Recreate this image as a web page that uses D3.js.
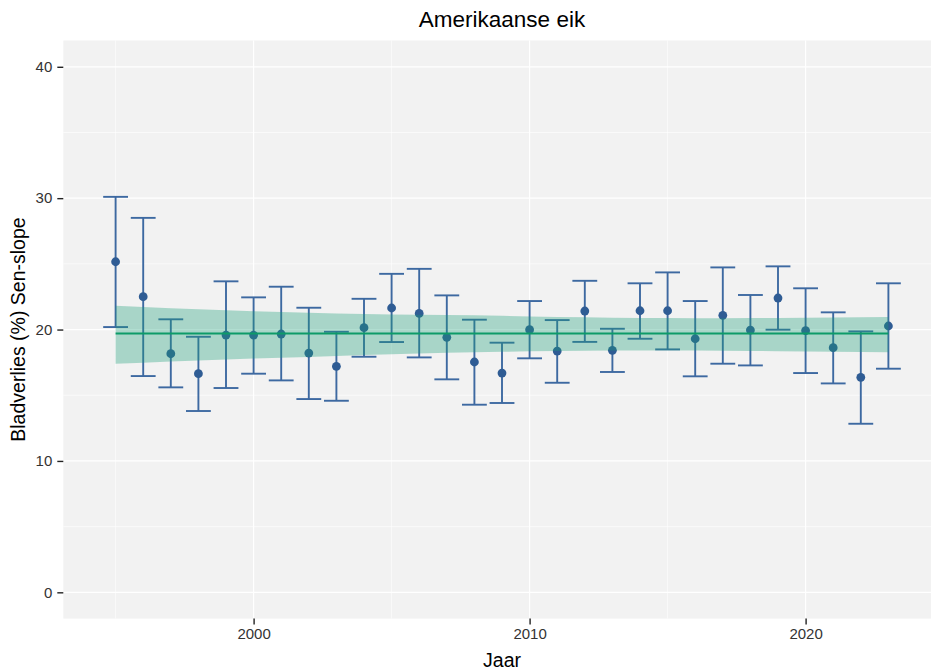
<!DOCTYPE html>
<html>
<head>
<meta charset="utf-8">
<script src="https://cdn.jsdelivr.net/npm/d3@7/dist/d3.min.js"></script>
<style>
  html, body { margin: 0; padding: 0; background: #ffffff; }
  svg { display: block; }
  text { font-family: "Liberation Sans", Arial, sans-serif; }
</style>
</head>
<body>
<div id="chart"></div>
<script>
// Jaarlijks bladverlies met betrouwbaarheidsinterval
const years = [1995, 1996, 1997, 1998, 1999, 2000, 2001, 2002, 2003, 2004,
               2005, 2006, 2007, 2008, 2009, 2010, 2011, 2012, 2013, 2014,
               2015, 2016, 2017, 2018, 2019, 2020, 2021, 2022, 2023];
const meanLoss = [25.16, 22.50, 18.16, 16.64, 19.58, 19.58, 19.66, 18.21, 17.20, 20.14,
                  21.64, 21.23, 19.41, 17.53, 16.69, 19.99, 18.36, 21.41, 18.42, 21.43,
                  21.43, 19.30, 21.08, 19.96, 22.40, 19.91, 18.62, 16.36, 20.27];
const lowerLoss = [20.19, 16.46, 15.60, 13.80, 15.55, 16.64, 16.13, 14.71, 14.58, 17.93,
                   19.05, 17.88, 16.21, 14.28, 14.41, 17.81, 15.95, 19.06, 16.77, 19.30,
                   18.49, 16.44, 17.40, 17.27, 19.99, 16.69, 15.90, 12.83, 17.02];
const upperLoss = [30.10, 28.50, 20.78, 19.45, 23.67, 22.45, 23.26, 21.66, 19.83, 22.34,
                   24.24, 24.62, 22.60, 20.75, 19.00, 22.17, 20.72, 23.71, 20.06, 23.52,
                   24.35, 22.17, 24.73, 22.63, 24.81, 23.14, 21.31, 19.86, 23.52];

// Sen-slope trend en bijbehorende band
const senSlope = [19.70, 19.70, 19.70, 19.70, 19.70, 19.70, 19.70, 19.70, 19.70, 19.70,
                  19.70, 19.70, 19.70, 19.70, 19.70, 19.70, 19.70, 19.70, 19.70, 19.70,
                  19.70, 19.70, 19.70, 19.70, 19.70, 19.70, 19.70, 19.70, 19.70];
const bandUpper = [21.81, 21.72, 21.63, 21.55, 21.47, 21.40, 21.33, 21.27, 21.22, 21.18,
                   21.15, 21.12, 21.10, 21.08, 21.05, 21.00, 20.96, 20.93, 20.90, 20.88,
                   20.87, 20.86, 20.86, 20.87, 20.88, 20.90, 20.92, 20.94, 20.96];
const bandLower = [17.40, 17.48, 17.56, 17.64, 17.72, 17.79, 17.85, 17.92, 17.99, 18.06,
                   18.12, 18.18, 18.23, 18.28, 18.31, 18.34, 18.36, 18.38, 18.40, 18.41,
                   18.41, 18.40, 18.39, 18.37, 18.35, 18.33, 18.31, 18.29, 18.27];

const xTicks = [2000, 2010, 2020];
const xMinor = [1995, 2005, 2015, 2025];
const yTicks = [0, 10, 20, 30, 40];
const yMinor = [5, 15, 25, 35];

const titleText = "Amerikaanse eik";
const xTitle = "Jaar";
const yTitle = "Bladverlies (%) Sen-slope";

const rows = years.map((y, i) => ({
  year: y, mean: meanLoss[i], lo: lowerLoss[i], hi: upperLoss[i],
  trend: senSlope[i], bLo: bandLower[i], bHi: bandUpper[i]
}));

const W = 931, H = 671;
const panel = { left: 63.3, right: 940.7, top: 40.5, bottom: 618.6 };
const capWidth = 0.9;

const svg = d3.select("#chart").append("svg").attr("width", W).attr("height", H);

// Domain with 5% padding around data incl. cap width
const xLo = d3.min(years) - capWidth / 2, xHi = d3.max(years) + capWidth / 2;
const xPad = (xHi - xLo) * 0.05;
const x = d3.scaleLinear().domain([xLo - xPad, xHi + xPad]).range([panel.left, panel.right]);
const y = d3.scaleLinear().domain([-2, 42]).range([panel.bottom, panel.top]);

// Panel background
svg.append("rect")
  .attr("x", panel.left).attr("y", panel.top)
  .attr("width", panel.right - panel.left).attr("height", panel.bottom - panel.top)
  .attr("fill", "#f2f2f2");

const grid = svg.append("g");
grid.selectAll(".ymin").data(yMinor).join("line")
  .attr("x1", panel.left).attr("x2", panel.right)
  .attr("y1", d => y(d)).attr("y2", d => y(d))
  .attr("stroke", "#ffffff").attr("stroke-width", 0.6);
grid.selectAll(".xmin").data(xMinor).join("line")
  .attr("y1", panel.top).attr("y2", panel.bottom)
  .attr("x1", d => x(d)).attr("x2", d => x(d))
  .attr("stroke", "#ffffff").attr("stroke-width", 0.6);
grid.selectAll(".ymaj").data(yTicks).join("line")
  .attr("x1", panel.left).attr("x2", panel.right)
  .attr("y1", d => y(d)).attr("y2", d => y(d))
  .attr("stroke", "#ffffff").attr("stroke-width", 1.2);
grid.selectAll(".xmaj").data(xTicks).join("line")
  .attr("y1", panel.top).attr("y2", panel.bottom)
  .attr("x1", d => x(d)).attr("x2", d => x(d))
  .attr("stroke", "#ffffff").attr("stroke-width", 1.2);

// Error bars
const barColor = "#3d69a1";
const bars = svg.append("g").attr("stroke", barColor).attr("stroke-width", 1.9).attr("fill", "none");
bars.selectAll(".v").data(rows).join("line")
  .attr("x1", d => x(d.year)).attr("x2", d => x(d.year))
  .attr("y1", d => y(d.lo)).attr("y2", d => y(d.hi));
bars.selectAll(".top").data(rows).join("line")
  .attr("x1", d => x(d.year - capWidth / 2)).attr("x2", d => x(d.year + capWidth / 2))
  .attr("y1", d => y(d.hi)).attr("y2", d => y(d.hi));
bars.selectAll(".bot").data(rows).join("line")
  .attr("x1", d => x(d.year - capWidth / 2)).attr("x2", d => x(d.year + capWidth / 2))
  .attr("y1", d => y(d.lo)).attr("y2", d => y(d.lo));

// Mean points
svg.append("g").selectAll("circle").data(rows).join("circle")
  .attr("cx", d => x(d.year)).attr("cy", d => y(d.mean))
  .attr("r", 4.4).attr("fill", "#2f5c94");

// Sen-slope band
const area = d3.area().x(d => x(d.year)).y0(d => y(d.bLo)).y1(d => y(d.bHi));
svg.append("path").datum(rows)
  .attr("d", area).attr("fill", "#1b9e77").attr("fill-opacity", 0.34);

// Sen-slope line
const line = d3.line().x(d => x(d.year)).y(d => y(d.trend));
svg.append("path").datum(rows)
  .attr("d", line).attr("fill", "none").attr("stroke", "#0d9b68").attr("stroke-width", 2.2);

// Axes
const yAxis = d3.axisLeft(y).tickValues(yTicks).tickSize(6).tickPadding(5);
const gy = svg.append("g").attr("transform", `translate(${panel.left},0)`).call(yAxis);
gy.select(".domain").remove();
gy.selectAll(".tick line").attr("stroke", "#222222").attr("stroke-width", 1.4);
gy.selectAll(".tick text").attr("fill", "#333333").attr("font-size", 15)
  .style("font-family", "'Liberation Sans', Arial, sans-serif");

const xAxis = d3.axisBottom(x).tickValues(xTicks).tickFormat(d3.format("d")).tickSize(6).tickPadding(4);
const gx = svg.append("g").attr("transform", `translate(0,${panel.bottom})`).call(xAxis);
gx.select(".domain").remove();
gx.selectAll(".tick line").attr("stroke", "#222222").attr("stroke-width", 1.4);
gx.selectAll(".tick text").attr("fill", "#333333").attr("font-size", 15)
  .style("font-family", "'Liberation Sans', Arial, sans-serif");

// Titles
const midX = (panel.left + panel.right) / 2;
svg.append("text").attr("x", midX).attr("y", 27)
  .attr("text-anchor", "middle").attr("font-size", 22.5).attr("fill", "#000000")
  .text(titleText);
svg.append("text").attr("x", midX).attr("y", 667)
  .attr("text-anchor", "middle").attr("font-size", 19.5).attr("fill", "#000000")
  .text(xTitle);
svg.append("text")
  .attr("transform", `translate(25,${(panel.top + panel.bottom) / 2}) rotate(-90)`)
  .attr("text-anchor", "middle").attr("font-size", 19.5).attr("fill", "#000000")
  .text(yTitle);
</script>
</body>
</html>
